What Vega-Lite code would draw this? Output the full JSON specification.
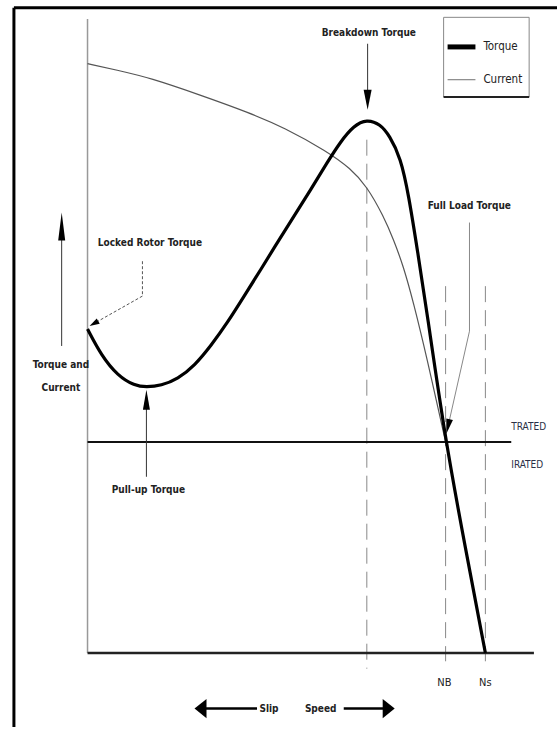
{
  "$schema": "https://vega.github.io/schema/vega-lite/v6.json",
  "width": 559,
  "height": 729,
  "autosize": {"type": "fit", "contains": "padding"},
  "padding": 0,
  "background": "white",
  "config": {"view": {"stroke": null}, "text": {"font": "DejaVu Sans Condensed, sans-serif"}},
  "datasets": {
    "torque": [
      {"speed": 0, "value": 153.3}, {"speed": 3.5, "value": 140.7}, {"speed": 7.6, "value": 131.2},
      {"speed": 11.8, "value": 126.5}, {"speed": 14.8, "value": 125.8}, {"speed": 18.5, "value": 126.5},
      {"speed": 22.7, "value": 129.7}, {"speed": 26.9, "value": 136.0}, {"speed": 31.0, "value": 145.4},
      {"speed": 35.2, "value": 156.4}, {"speed": 39.4, "value": 169.0}, {"speed": 43.6, "value": 181.6},
      {"speed": 47.7, "value": 194.2}, {"speed": 51.9, "value": 206.7}, {"speed": 56.1, "value": 219.3},
      {"speed": 60.2, "value": 232.0}, {"speed": 63.6, "value": 242.0}, {"speed": 66.9, "value": 249.5},
      {"speed": 70.2, "value": 252.6}, {"speed": 73.6, "value": 250.2}, {"speed": 75.9, "value": 244.8},
      {"speed": 78.7, "value": 234.4}, {"speed": 80.7, "value": 216.9}, {"speed": 83.0, "value": 189.6},
      {"speed": 85.2, "value": 162.7}, {"speed": 90.0, "value": 99.9}, {"speed": 95.0, "value": 49.5},
      {"speed": 100, "value": 0}
    ],
    "current": [
      {"speed": 0, "value": 278.9}, {"speed": 8.1, "value": 275.5}, {"speed": 15.6, "value": 272.2},
      {"speed": 28.1, "value": 264.2}, {"speed": 40.6, "value": 255.7}, {"speed": 49.4, "value": 248.7},
      {"speed": 60.2, "value": 237.4}, {"speed": 66.1, "value": 229.3}, {"speed": 70.2, "value": 220.9},
      {"speed": 74.4, "value": 206.7}, {"speed": 76.9, "value": 195.7}, {"speed": 79.4, "value": 183.0},
      {"speed": 81.9, "value": 166.0}, {"speed": 85.2, "value": 140.5}, {"speed": 90.0, "value": 99.9}
    ]
  },
  "encoding": {
    "x": {"type": "quantitative", "scale": {"domain": [-22, 118], "nice": false, "zero": false}, "axis": null},
    "y": {"type": "quantitative", "scale": {"domain": [-35, 309], "nice": false, "zero": false}, "axis": null}
  },
  "layer": [
    {
      "data": {"values": [
        {"x": -18.5, "x2": 118, "y": 305.3, "y2": 305.3},
        {"x": -18.5, "x2": -18.5, "y": 305.3, "y2": -35}
      ]},
      "mark": {"type": "rule", "color": "black", "strokeWidth": 3},
      "encoding": {"x": {"field": "x"}, "x2": {"field": "x2"}, "y": {"field": "y"}, "y2": {"field": "y2"}}
    },
    {
      "data": {"values": [{"x": 0, "x2": 0, "y": 0, "y2": 300}]},
      "mark": {"type": "rule", "color": "#999999", "strokeWidth": 1.5},
      "encoding": {"x": {"field": "x"}, "x2": {"field": "x2"}, "y": {"field": "y"}, "y2": {"field": "y2"}}
    },
    {
      "data": {"values": [
        {"x": 70.2, "x2": 70.2, "y": 242.9, "y2": -7.4},
        {"x": 90.0, "x2": 90.0, "y": 173.6, "y2": -3.9},
        {"x": 100, "x2": 100, "y": 173.6, "y2": -3.9}
      ]},
      "mark": {"type": "rule", "color": "#888888", "strokeWidth": 1, "strokeDash": [16, 8]},
      "encoding": {"x": {"field": "x"}, "x2": {"field": "x2"}, "y": {"field": "y"}, "y2": {"field": "y2"}}
    },
    {
      "data": {"values": [{"x": 0, "x2": 112.2, "y": 0, "y2": 0}]},
      "mark": {"type": "rule", "color": "#222222", "strokeWidth": 2.5},
      "encoding": {"x": {"field": "x"}, "x2": {"field": "x2"}, "y": {"field": "y"}, "y2": {"field": "y2"}}
    },
    {
      "data": {"values": [{"x": 0, "x2": 106.5, "y": 99.9, "y2": 99.9}]},
      "mark": {"type": "rule", "color": "#111111", "strokeWidth": 2},
      "encoding": {"x": {"field": "x"}, "x2": {"field": "x2"}, "y": {"field": "y"}, "y2": {"field": "y2"}}
    },
    {
      "data": {"name": "current"},
      "mark": {"type": "line", "color": "#555555", "strokeWidth": 1.2, "interpolate": "basis"},
      "encoding": {"x": {"field": "speed"}, "y": {"field": "value"}}
    },
    {
      "data": {"name": "torque"},
      "mark": {"type": "line", "color": "black", "strokeWidth": 3.2, "interpolate": "basis"},
      "encoding": {"x": {"field": "speed"}, "y": {"field": "value"}}
    },
    {
      "data": {"values": [
        {"x": 70.4, "x2": 70.4, "y": 288.3, "y2": 262},
        {"x": 14.8, "x2": 14.8, "y": 83.4, "y2": 118},
        {"x": -6.5, "x2": -6.5, "y": 145.3, "y2": 200}
      ]},
      "mark": {"type": "rule", "color": "#333333", "strokeWidth": 1},
      "encoding": {"x": {"field": "x"}, "x2": {"field": "x2"}, "y": {"field": "y"}, "y2": {"field": "y2"}}
    },
    {
      "data": {"values": [
        {"x": 96.0, "x2": 96.0, "y": 203.7, "y2": 152.3},
        {"x": 96.0, "x2": 90.6, "y": 152.3, "y2": 107.2}
      ]},
      "mark": {"type": "rule", "color": "#888888", "strokeWidth": 1},
      "encoding": {"x": {"field": "x"}, "x2": {"field": "x2"}, "y": {"field": "y"}, "y2": {"field": "y2"}}
    },
    {
      "data": {"values": [
        {"x": 13.8, "x2": 13.8, "y": 185.4, "y2": 168.9},
        {"x": 13.8, "x2": 1.6, "y": 168.9, "y2": 155.9}
      ]},
      "mark": {"type": "rule", "color": "#555555", "strokeWidth": 1, "strokeDash": [3, 2]},
      "encoding": {"x": {"field": "x"}, "x2": {"field": "x2"}, "y": {"field": "y"}, "y2": {"field": "y2"}}
    },
    {
      "data": {"values": [
        {"x": 42.6, "x2": 29.5, "y": -26.3, "y2": -26.3},
        {"x": 64.4, "x2": 74.5, "y": -26.3, "y2": -26.3}
      ]},
      "mark": {"type": "rule", "color": "black", "strokeWidth": 2.5},
      "encoding": {"x": {"field": "x"}, "x2": {"field": "x2"}, "y": {"field": "y"}, "y2": {"field": "y2"}}
    },
    {
      "data": {"values": [{"x": 70.4, "y": 261.8}]},
      "mark": {"type": "point", "filled": true, "color": "black", "opacity": 1, "size": 400, "shape": "M0,1L0.4,-1L-0.4,-1Z"},
      "encoding": {"x": {"field": "x"}, "y": {"field": "y"}}
    },
    {
      "data": {"values": [{"x": 14.8, "y": 119.8}]},
      "mark": {"type": "point", "filled": true, "color": "black", "opacity": 1, "size": 400, "shape": "M0,-1L0.35,1L-0.35,1Z"},
      "encoding": {"x": {"field": "x"}, "y": {"field": "y"}}
    },
    {
      "data": {"values": [{"x": -6.5, "y": 201.8}]},
      "mark": {"type": "point", "filled": true, "color": "black", "opacity": 1, "size": 784, "shape": "M0,-1L0.25,1L-0.25,1Z"},
      "encoding": {"x": {"field": "x"}, "y": {"field": "y"}}
    },
    {
      "data": {"values": [{"x": 28.4, "y": -26.3}]},
      "mark": {"type": "point", "filled": true, "color": "black", "opacity": 1, "size": 144, "shape": "M-1,0L1,-1.6L1,1.6Z"},
      "encoding": {"x": {"field": "x"}, "y": {"field": "y"}}
    },
    {
      "data": {"values": [{"x": 75.7, "y": -26.3}]},
      "mark": {"type": "point", "filled": true, "color": "black", "opacity": 1, "size": 144, "shape": "M1,0L-1,-1.6L-1,1.6Z"},
      "encoding": {"x": {"field": "x"}, "y": {"field": "y"}}
    },
    {
      "data": {"values": [{"x": 1.6, "y": 155.9}]},
      "mark": {"type": "point", "filled": true, "color": "black", "opacity": 1, "size": 100, "shape": "M0,-1L0.6,1L-0.6,1Z", "angle": 240},
      "encoding": {"x": {"field": "x"}, "y": {"field": "y"}}
    },
    {
      "data": {"values": [{"x": 90.6, "y": 107.2}]},
      "mark": {"type": "point", "filled": true, "color": "black", "opacity": 1, "size": 225, "shape": "M0,-1L0.45,1L-0.45,1Z", "angle": 192.6},
      "encoding": {"x": {"field": "x"}, "y": {"field": "y"}}
    },
    {
      "data": {"values": [{"x": 89.5, "x2": 111, "y": 300.8, "y2": 263.1}]},
      "mark": {"type": "rect", "fill": "white", "stroke": "#888888", "strokeWidth": 1},
      "encoding": {"x": {"field": "x"}, "x2": {"field": "x2"}, "y": {"field": "y"}, "y2": {"field": "y2"}}
    },
    {
      "data": {"values": [{"x": 89.5, "x2": 111, "y": 263.1, "y2": 263.1}]},
      "mark": {"type": "rule", "color": "#222222", "strokeWidth": 2},
      "encoding": {"x": {"field": "x"}, "x2": {"field": "x2"}, "y": {"field": "y"}, "y2": {"field": "y2"}}
    },
    {
      "data": {"values": [{"x": 90.5, "x2": 97.5, "y": 286.8, "y2": 286.8}]},
      "mark": {"type": "rule", "color": "black", "strokeWidth": 5},
      "encoding": {"x": {"field": "x"}, "x2": {"field": "x2"}, "y": {"field": "y"}, "y2": {"field": "y2"}}
    },
    {
      "data": {"values": [{"x": 90.5, "x2": 97.5, "y": 271.3, "y2": 271.3}]},
      "mark": {"type": "rule", "color": "#888888", "strokeWidth": 1.2},
      "encoding": {"x": {"field": "x"}, "x2": {"field": "x2"}, "y": {"field": "y"}, "y2": {"field": "y2"}}
    },
    {
      "data": {"values": [
        {"label": "Torque", "x": 99.5, "y": 286.8},
        {"label": "Current", "x": 99.5, "y": 271.3}
      ]},
      "mark": {"type": "text", "align": "left", "baseline": "middle", "fontSize": 11.5, "color": "#222222"},
      "encoding": {"x": {"field": "x"}, "y": {"field": "y"}, "text": {"field": "label"}}
    },
    {
      "data": {"values": [
        {"label": "Breakdown Torque", "x": 70.7, "y": 293.5},
        {"label": "Torque and", "x": -6.7, "y": 136.3},
        {"label": "Current", "x": -6.7, "y": 125.4},
        {"label": "Pull-up Torque", "x": 15.3, "y": 77.3},
        {"label": "Full Load Torque", "x": 95.96, "y": 211.7},
        {"label": "Slip", "x": 45.6, "y": -26.3},
        {"label": "Speed", "x": 58.6, "y": -26.3}
      ]},
      "mark": {"type": "text", "align": "center", "baseline": "middle", "fontSize": 10, "fontWeight": "bold", "color": "#222222"},
      "encoding": {"x": {"field": "x"}, "y": {"field": "y"}, "text": {"field": "label"}}
    },
    {
      "data": {"values": [{"label": "Locked Rotor Torque", "x": 2.6, "y": 193.9}]},
      "mark": {"type": "text", "align": "left", "baseline": "middle", "fontSize": 10, "fontWeight": "bold", "color": "#222222"},
      "encoding": {"x": {"field": "x"}, "y": {"field": "y"}, "text": {"field": "label"}}
    },
    {
      "data": {"values": [
        {"label": "TRATED", "x": 106.5, "y": 107.0},
        {"label": "IRATED", "x": 106.5, "y": 89.1}
      ]},
      "mark": {"type": "text", "align": "left", "baseline": "middle", "fontSize": 10, "color": "#2a2f45"},
      "encoding": {"x": {"field": "x"}, "y": {"field": "y"}, "text": {"field": "label"}}
    },
    {
      "data": {"values": [
        {"label": "NB", "x": 89.7, "y": -14.1},
        {"label": "Ns", "x": 100, "y": -14.1}
      ]},
      "mark": {"type": "text", "align": "center", "baseline": "middle", "fontSize": 11, "color": "#222222"},
      "encoding": {"x": {"field": "x"}, "y": {"field": "y"}, "text": {"field": "label"}}
    }
  ]
}
